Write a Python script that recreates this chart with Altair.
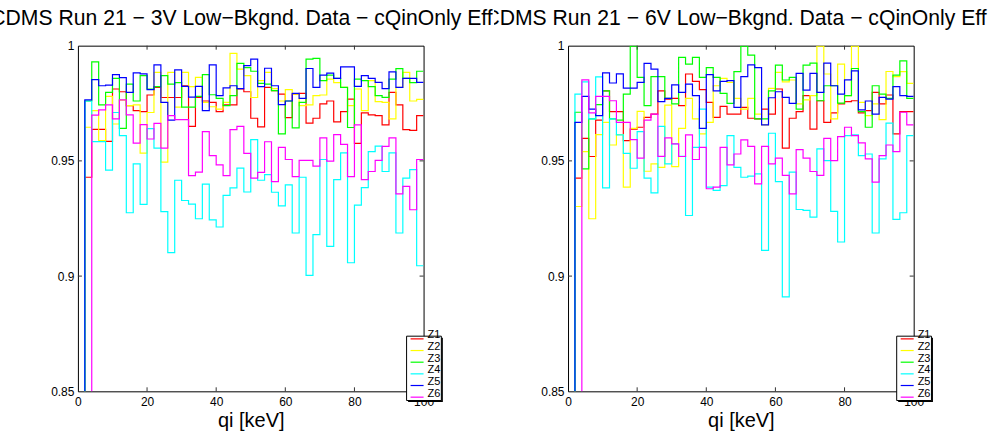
import altair as alt
import pandas as pd

# ---------------- data ----------------
series = ["Z1", "Z2", "Z3", "Z4", "Z5", "Z6"]
colors = ["#ff0000", "#ffff00", "#00ff00", "#00ffff", "#0000ff", "#ff00ff"]
bin_width = 2
n_bins = 50
x_label_values = [0, 20, 40, 60, 80, 100]
y_label_values = [0.85, 0.9, 0.95, 1.0]
x_inner_ticks = [20, 40, 60, 80]
y_inner_ticks = [0.9, 0.95]

title_3v = "CDMS Run 21 \u2212 3V Low\u2212Bkgnd. Data \u2212 cQinOnly Eff"
title_6v = "CDMS Run 21 \u2212 6V Low\u2212Bkgnd. Data \u2212 cQinOnly Eff"
x_title = "qi [keV]"

# 3V panel
v3_z1 = [0, 0.9429, 0.9637, 0.9637, 0.9585, 0.9812, 0.9800, 0.9740, 0.9718, 0.9714,
         0.9786, 0.9819, 0.9775, 0.9775, 0.9775, 0.9826, 0.9650, 0.9775, 0.9760, 0.9754,
         0.9714, 0.9743, 0.9743, 0.9812, 0.9800, 0.9685, 0.9648, 0.9819, 0.9805, 0.9790,
         0.9688, 0.9790, 0.9793, 0.9664, 0.9685, 0.9747, 0.9760, 0.9669, 0.9714, 0.9768,
         0.9576, 0.9708, 0.9700, 0.9696, 0.9656, 0.9797, 0.9743, 0.9636, 0.9632, 0.9696]
v3_z2 = [0, 0.9646, 0.9718, 0.9588, 0.9780, 0.9660, 0.9764, 0.9740, 0.9743, 0.9534,
         0.9710, 0.9884, 0.9495, 0.9884, 0.9733, 0.9884, 0.9822, 0.9862, 0.9754, 0.9735,
         0.9725, 0.9754, 0.9967, 0.9898, 0.9870, 0.9775, 0.9848, 0.9884, 0.9814, 0.9760,
         0.9809, 0.9790, 0.9740, 0.9743, 0.9783, 0.9786, 0.9855, 0.9840, 0.9819, 0.9740,
         0.9812, 0.9718, 0.9848, 0.9757, 0.9754, 0.9682, 0.9819, 0.9884, 0.9760, 0.9767]
v3_z3 = [0, 0.9760, 0.9930, 0.9743, 0.9797, 0.9858, 0.9641, 0.9833, 0.9760, 0.9870,
         0.9812, 0.9822, 0.9870, 0.9833, 0.9840, 0.9733, 0.9733, 0.9780, 0.9874, 0.9787,
         0.9771, 0.9740, 0.9783, 0.9923, 0.9905, 0.9889, 0.9836, 0.9833, 0.9805, 0.9617,
         0.9760, 0.9643, 0.9754, 0.9942, 0.9945, 0.9848, 0.9872, 0.9858, 0.9819, 0.9645,
         0.9855, 0.9848, 0.9822, 0.9783, 0.9776, 0.9855, 0.9900, 0.9858, 0.9840, 0.9889]
v3_z4 = [0, 0.9760, 0.9584, 0.9584, 0.9460, 0.9710, 0.9610, 0.9275, 0.9487, 0.9311,
         0.9640, 0.9555, 0.9280, 0.9102, 0.9416, 0.9328, 0.9312, 0.9249, 0.9399, 0.9244,
         0.9213, 0.9350, 0.9383, 0.9469, 0.9365, 0.9592, 0.9416, 0.9440, 0.9364, 0.9305,
         0.9396, 0.9187, 0.9429, 0.9003, 0.9180, 0.9506, 0.9129, 0.9419, 0.9535, 0.9058,
         0.9308, 0.9384, 0.9540, 0.9564, 0.9454, 0.9535, 0.9187, 0.9425, 0.9462, 0.9045]
v3_z5 = [0, 0.9765, 0.9853, 0.9826, 0.9829, 0.9874, 0.9861, 0.9797, 0.9882, 0.9878,
         0.9809, 0.9917, 0.9754, 0.9677, 0.9895, 0.9823, 0.9777, 0.9823, 0.9718, 0.9917,
         0.9783, 0.9817, 0.9826, 0.9814, 0.9913, 0.9942, 0.9822, 0.9902, 0.9826, 0.9744,
         0.9760, 0.9793, 0.9771, 0.9901, 0.9819, 0.9872, 0.9881, 0.9858, 0.9908, 0.9908,
         0.9823, 0.9870, 0.9858, 0.9841, 0.9814, 0.9886, 0.9819, 0.9858, 0.9858, 0.9841]
v3_z6 = [0, 0, 0.9699, 0.9721, 0.9743, 0.9682, 0.9765, 0.9700, 0.9577, 0.9657,
         0.9595, 0.9663, 0.9555, 0.9696, 0.9679, 0.9679, 0.9436, 0.9451, 0.9627, 0.9523,
         0.9483, 0.9436, 0.9636, 0.9650, 0.9533, 0.9425, 0.9450, 0.9583, 0.9410, 0.9559,
         0.9506, 0.9432, 0.9502, 0.9502, 0.9477, 0.9600, 0.9499, 0.9614, 0.9572, 0.9432,
         0.9656, 0.9419, 0.9454, 0.9502, 0.9563, 0.9600, 0.9357, 0.9389, 0.9288, 0.9506]

# 6V panel
v6_z1 = [0, 0.9425, 0.9598, 0.9519, 0.9677, 0.9804, 0.9714, 0.9714, 0.9588, 0.9638,
         0.9646, 0.9689, 0.9703, 0.9804, 0.9768, 0.9771, 0.9740, 0.9877, 0.9845, 0.9809,
         0.9754, 0.9689, 0.9737, 0.9703, 0.9703, 0.9732, 0.9685, 0.9682, 0.9725, 0.9703,
         0.9812, 0.9555, 0.9685, 0.9714, 0.9783, 0.9638, 0.9761, 0.9667, 0.9708, 0.9747,
         0.9757, 0.9761, 0.9708, 0.9718, 0.9797, 0.9747, 0.9786, 0.9617, 0.9714, 0.9714]
v6_z2 = [0, 0.9302, 0.9540, 0.9249, 0.9614, 0.9667, 0.9569, 0.9614, 0.9386, 0.9641,
         0.9715, 0.9455, 0.9487, 0.9472, 0.9742, 0.9475, 0.9641, 0.9771, 0.9682, 0.9617,
         0.9667, 0.9826, 0.9858, 0.9841, 0.9771, 0.9725, 0.9771, 0.9703, 0.9656, 0.9815,
         0.9884, 0.9843, 0.9851, 0.9747, 0.9765, 0.9783, 0.9998, 0.9877, 0.9682, 0.9920,
         0.9783, 0.9998, 0.9754, 0.9696, 0.9747, 0.9679, 0.9888, 0.9866, 0.9887, 0.9836]
v6_z3 = [0, 0.9711, 0.9465, 0.9682, 0.9744, 0.9804, 0.9682, 0.9677, 0.9790, 0.9998,
         0.9862, 0.9740, 0.9866, 0.9866, 0.9771, 0.9747, 0.9949, 0.9920, 0.9949, 0.9862,
         0.9905, 0.9862, 0.9793, 0.9750, 0.9887, 0.9998, 0.9959, 0.9682, 0.9682, 0.9804,
         0.9916, 0.9851, 0.9862, 0.9725, 0.9916, 0.9924, 0.9761, 0.9826, 0.9826, 0.9751,
         0.9783, 0.9901, 0.9714, 0.9646, 0.9826, 0.9790, 0.9771, 0.9872, 0.9934, 0.9771]
v6_z4 = [0, 0.9790, 0.9843, 0.9682, 0.9865, 0.9383, 0.9682, 0.9613, 0.9533, 0.9468,
         0.9627, 0.9425, 0.9361, 0.9650, 0.9487, 0.9574, 0.9520, 0.9263, 0.9559, 0.9725,
         0.9386, 0.9372, 0.9393, 0.9610, 0.9472, 0.9429, 0.9434, 0.9444, 0.9112, 0.9620,
         0.9410, 0.8910, 0.9451, 0.9289, 0.9285, 0.9256, 0.9552, 0.9501, 0.9281, 0.9148,
         0.9610, 0.9613, 0.9523, 0.9530, 0.9187, 0.9509, 0.9664, 0.9246, 0.9275, 0.9610]
v6_z5 = [0, 0.9667, 0.9780, 0.9725, 0.9696, 0.9882, 0.9838, 0.9878, 0.9816, 0.9816,
         0.9841, 0.9923, 0.9898, 0.9757, 0.9771, 0.9830, 0.9797, 0.9833, 0.9783, 0.9641,
         0.9874, 0.9804, 0.9845, 0.9848, 0.9732, 0.9866, 0.9917, 0.9905, 0.9656, 0.9774,
         0.9800, 0.9776, 0.9750, 0.9880, 0.9807, 0.9880, 0.9797, 0.9924, 0.9826, 0.9790,
         0.9852, 0.9891, 0.9721, 0.9760, 0.9703, 0.9776, 0.9768, 0.9822, 0.9783, 0.9780]
v6_z6 = [0, 0, 0.9852, 0.9708, 0.9780, 0.9780, 0.9761, 0.9667, 0.9667, 0.9592,
         0.9512, 0.9677, 0.9703, 0.9520, 0.9600, 0.9574, 0.9519, 0.9613, 0.9506, 0.9559,
         0.9379, 0.9386, 0.9559, 0.9483, 0.9530, 0.9591, 0.9563, 0.9400, 0.9563, 0.9487,
         0.9512, 0.9437, 0.9357, 0.9549, 0.9512, 0.9454, 0.9437, 0.9598, 0.9501, 0.9605,
         0.9646, 0.9610, 0.9578, 0.9509, 0.9408, 0.9523, 0.9569, 0.9540, 0.9711, 0.9656]

panel_3v = [v3_z1, v3_z2, v3_z3, v3_z4, v3_z5, v3_z6]
panel_6v = [v6_z1, v6_z2, v6_z3, v6_z4, v6_z5, v6_z6]

# ---------------- layout constants ----------------
W, H = 346, 346
FONT = "Liberation Sans"
TICK_LEN = 4

xs = alt.Scale(domain=[0, 100], nice=False, zero=False)
ys = alt.Scale(domain=[0.85, 1.0], nice=False, zero=False)
x_axis = alt.Axis(values=x_label_values, title=x_title, format="d",
                  labelFlush=False, labelPadding=5, titlePadding=3)
y_axis = alt.Axis(values=y_label_values, format=".2~f", title=None, labelPadding=4)


def hist_table(values_list):
    rows = []
    for name, vals in zip(series, values_list):
        for i, v in enumerate(vals):
            rows.append({"series": name, "x": i * bin_width, "y": v})
        rows.append({"series": name, "x": n_bins * bin_width, "y": vals[-1]})
    return pd.DataFrame(rows)


one = pd.DataFrame({"a": [0]})


def panel(values_list, extra_layers):
    df = hist_table(values_list)
    lines = alt.Chart(df).mark_line(interpolate="step-after", clip=True, strokeWidth=1.2).encode(
        x=alt.X("x:Q", scale=xs, axis=x_axis),
        y=alt.Y("y:Q", scale=ys, axis=y_axis),
        color=alt.Color("series:N", scale=alt.Scale(domain=series, range=colors), legend=None),
        detail="series:N",
    )
    xt = pd.DataFrame({"x": x_inner_ticks})
    yt = pd.DataFrame({"y": y_inner_ticks})
    tb = alt.Chart(xt).mark_rule(color="#333", strokeWidth=1).encode(
        x=alt.X("x:Q", scale=xs, axis=x_axis), y=alt.value(H), y2=alt.value(H - TICK_LEN))
    tt = alt.Chart(xt).mark_rule(color="#333", strokeWidth=1).encode(
        x=alt.X("x:Q", scale=xs, axis=x_axis), y=alt.value(0), y2=alt.value(TICK_LEN))
    tl = alt.Chart(yt).mark_rule(color="#333", strokeWidth=1).encode(
        y=alt.Y("y:Q", scale=ys, axis=y_axis), x=alt.value(0), x2=alt.value(TICK_LEN))
    tr = alt.Chart(yt).mark_rule(color="#333", strokeWidth=1).encode(
        y=alt.Y("y:Q", scale=ys, axis=y_axis), x=alt.value(W - TICK_LEN), x2=alt.value(W))

    # legend box (drawn inside the frame, bottom right)
    lx0, lx1, ly0, ly1 = 329, 363.8, 290.8, 355.2
    shadow = alt.Chart(one).mark_rect(fill="black").encode(
        x=alt.value(lx0 + 1.5), x2=alt.value(lx1 + 1.5), y=alt.value(ly0 + 1.5), y2=alt.value(ly1 + 1.5))
    box = alt.Chart(one).mark_rect(fill="white", stroke="black", strokeWidth=1).encode(
        x=alt.value(lx0), x2=alt.value(lx1), y=alt.value(ly0), y2=alt.value(ly1))
    leg = [shadow, box]
    for i, (s, c) in enumerate(zip(series, colors)):
        ry = 293.5 + 11.67 * i
        leg.append(alt.Chart(one).mark_rule(color=c, strokeWidth=1.2).encode(
            x=alt.value(333), x2=alt.value(346), y=alt.value(ry)))
        leg.append(alt.Chart(one).mark_text(align="left", baseline="middle", font=FONT,
                                            fontSize=11, color="black").encode(
            x=alt.value(350), y=alt.value(ry - 3.5), text=alt.value(s)))

    return alt.layer(lines, tb, tt, tl, tr, *leg, *extra_layers).properties(width=W, height=H)


TITLE_Y = -20.5
title_style = dict(align="left", baseline="alphabetic", font=FONT, fontSize=21.2, color="black")

# right panel plot origin sits at page x 568.3, left one at 77.7
right_title = alt.Chart(one).mark_text(**title_style).encode(
    x=alt.value(484.6 - 568.3), y=alt.value(TITLE_Y), text=alt.value(title_6v))
cut = alt.Chart(one).mark_rect(fill="white").encode(
    x=alt.value(478 - 568.3), x2=alt.value(494.3 - 568.3), y=alt.value(-46), y2=alt.value(-12))
left_title = alt.Chart(one).mark_text(**title_style).encode(
    x=alt.value(-10 - 568.3), y=alt.value(TITLE_Y), text=alt.value(title_3v))

left = panel(panel_3v, [])
right = panel(panel_6v, [right_title, cut, left_title])

chart = alt.hconcat(left, right, spacing=144.6, bounds="flush").properties(
    padding={"left": -11, "top": -1.5, "right": 0, "bottom": 0}
).configure_view(
    stroke="black", strokeWidth=1
).configure_axis(
    domain=False, ticks=False, grid=False,
    labelFont=FONT, labelFontSize=12, labelColor="black",
    titleFont=FONT, titleFontSize=20, titleFontWeight="normal", titleColor="black",
)

chart.save("out.html", embed_options={"renderer": "svg", "actions": False})
